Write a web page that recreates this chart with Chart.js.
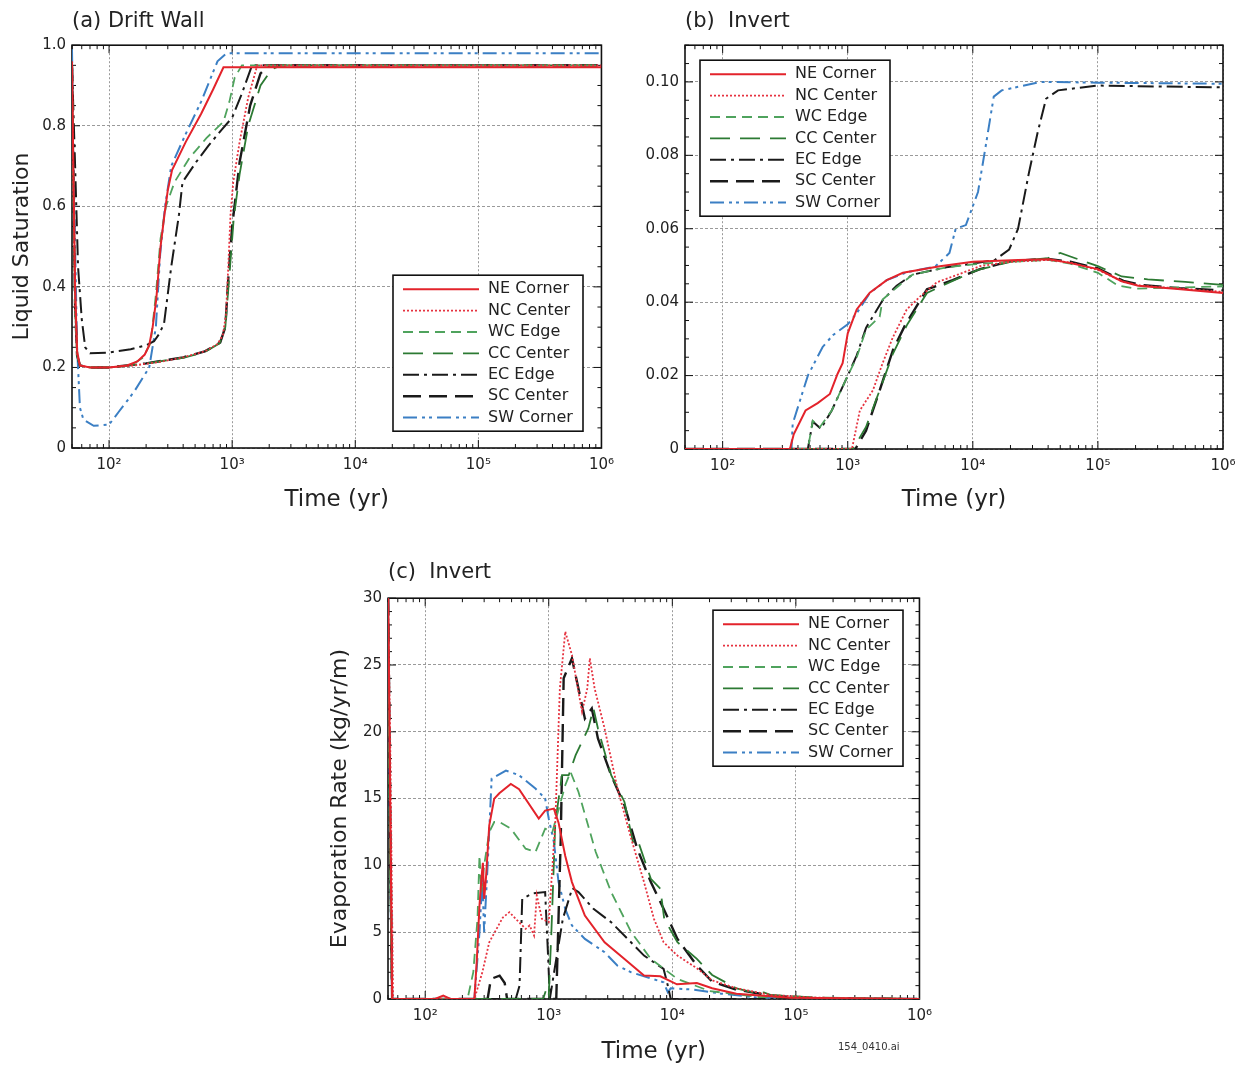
<!DOCTYPE html>
<html>
<head>
<meta charset="utf-8">
<script src="https://cdn.jsdelivr.net/npm/chart.js@4.4.0/dist/chart.umd.min.js"></script>
<style>
body{margin:0;background:#fff;width:1245px;height:1070px;position:relative;overflow:hidden;font-family:"DejaVu Sans",sans-serif}
canvas{position:absolute}
#note{position:absolute;left:838px;top:1041px;font-size:10px;color:#333}
</style>
</head>
<body>
<canvas id="wallChart" width="622" height="530" style="left:0;top:0"></canvas>
<canvas id="invertChart" width="623" height="530" style="left:622px;top:0"></canvas>
<canvas id="evapChart" width="640" height="515" style="left:300px;top:555px"></canvas>
<div id="note">154_0410.ai</div>
<script>
/* DATA */
const seriesNames = ['NE Corner','NC Center','WC Edge','CC Center','EC Edge','SC Center','SW Corner'];
const decades = [100, 1000, 10000, 100000, 1000000];
const decadeLabels = ['10\u00b2','10\u00b3','10\u2074','10\u2075','10\u2076'];

// (a) drift wall liquid saturation, [time yr, saturation]
const wallNE = [[50,0.96],[51,0.75],[53,0.4],[55,0.24],[58,0.205],[70,0.2],[100,0.2],[140,0.205],[170,0.215],[195,0.232],[212,0.255],[226,0.3],[242,0.37],[262,0.5],[282,0.58],[300,0.64],[325,0.69],[420,0.76],[560,0.83],[700,0.89],[850,0.945],[1000000,0.945]];
const wallNC = [[50,0.95],[51,0.7],[53,0.35],[55,0.23],[58,0.205],[70,0.2],[100,0.2],[160,0.205],[250,0.213],[400,0.225],[600,0.24],[760,0.258],[840,0.28],[890,0.33],[930,0.45],[970,0.58],[1020,0.66],[1150,0.76],[1350,0.87],[1600,0.95],[1000000,0.95]];
const wallWC = [[50,0.94],[51,0.7],[53,0.35],[55,0.23],[58,0.205],[70,0.2],[100,0.2],[150,0.205],[190,0.225],[218,0.262],[240,0.38],[262,0.52],[290,0.6],[340,0.66],[450,0.72],[620,0.77],[850,0.81],[950,0.86],[1050,0.92],[1200,0.95],[1000000,0.95]];
const wallCC = [[50,0.93],[51,0.7],[53,0.35],[55,0.23],[58,0.205],[70,0.2],[100,0.2],[200,0.21],[400,0.224],[600,0.238],[790,0.26],[880,0.3],[950,0.43],[1030,0.57],[1150,0.68],[1350,0.8],[1700,0.9],[2100,0.94],[2500,0.95],[1000000,0.95]];
const wallEC = [[50,0.95],[53,0.7],[56,0.45],[60,0.32],[64,0.25],[70,0.235],[100,0.237],[150,0.245],[200,0.255],[232,0.265],[258,0.285],[280,0.31],[320,0.45],[370,0.58],[395,0.66],[510,0.71],[640,0.75],[820,0.79],[1000,0.82],[1200,0.88],[1450,0.95],[1000000,0.95]];
const wallSC = [[50,0.95],[51,0.7],[53,0.35],[55,0.23],[58,0.205],[70,0.2],[100,0.2],[200,0.21],[400,0.225],[600,0.24],[800,0.262],[880,0.3],[930,0.42],[1000,0.55],[1150,0.71],[1400,0.85],[1700,0.93],[2000,0.95],[1000000,0.95]];
const wallSW = [[50,0.99],[51,0.8],[53,0.5],[55,0.25],[58,0.1],[62,0.07],[75,0.055],[100,0.058],[120,0.09],[160,0.14],[212,0.2],[240,0.3],[260,0.48],[285,0.6],[320,0.7],[420,0.78],[560,0.86],[760,0.96],[900,0.98],[1000000,0.98]];

// (b) invert liquid saturation
const invertNE = [[50,0],[345,0],[370,0.004],[460,0.0105],[575,0.0125],[720,0.015],[830,0.0205],[910,0.0234],[1000,0.0315],[1180,0.038],[1500,0.0426],[2050,0.046],[2760,0.048],[5450,0.0498],[10000,0.051],[23000,0.0515],[41000,0.0517],[59000,0.0507],[100000,0.049],[155000,0.0457],[210000,0.0445],[435000,0.0436],[1000000,0.0425]];
const invertNC = [[50,0],[1080,0],[1250,0.0105],[1590,0.016],[1900,0.0234],[2300,0.0305],[2960,0.038],[3780,0.0415],[5150,0.0454],[8300,0.048],[11400,0.0498],[20000,0.051],[40000,0.0515],[60000,0.0508],[100000,0.0488],[160000,0.0455],[220000,0.0445],[450000,0.0437],[1000000,0.0428]];
const invertWC = [[50,0],[480,0],[525,0.0077],[600,0.006],[745,0.0105],[985,0.0195],[1180,0.025],[1400,0.0325],[1800,0.036],[1900,0.0407],[2460,0.044],[3300,0.0475],[6150,0.0495],[10000,0.0503],[20000,0.051],[40000,0.0515],[60000,0.0505],[100000,0.048],[145000,0.0445],[200000,0.0437],[450000,0.044],[1000000,0.0443]];
const invertCC = [[50,0],[1100,0],[1400,0.006],[1800,0.016],[2300,0.026],[3000,0.034],[4300,0.0425],[6900,0.0458],[11000,0.0488],[20000,0.051],[40000,0.052],[50000,0.0534],[100000,0.0498],[155000,0.047],[250000,0.0462],[500000,0.0455],[1000000,0.0447]];
const invertEC = [[50,0],[480,0],[525,0.0075],[610,0.0055],[745,0.0105],[985,0.0195],[1180,0.0255],[1400,0.033],[1900,0.0405],[2460,0.0445],[3300,0.0475],[6150,0.0495],[10000,0.0505],[15000,0.0515],[19500,0.0543],[23000,0.06],[28000,0.075],[33000,0.0863],[38500,0.0954],[48000,0.0977],[100000,0.099],[1000000,0.0985]];
const invertSC = [[50,0],[1150,0],[1400,0.005],[1800,0.016],[2300,0.027],[2900,0.034],[4300,0.0435],[6900,0.046],[11400,0.049],[20000,0.0512],[40000,0.0518],[60000,0.051],[100000,0.0492],[160000,0.0458],[220000,0.0447],[450000,0.0438],[1000000,0.0432]];
const invertSW = [[50,0],[355,0],[363,0.0069],[480,0.02],[630,0.0278],[760,0.031],[1000,0.034],[1180,0.037],[1500,0.0425],[2050,0.046],[3000,0.0482],[5000,0.0497],[6500,0.0534],[7300,0.06],[8800,0.061],[11000,0.07],[12600,0.082],[14700,0.096],[17000,0.0977],[35000,0.1],[100000,0.0998],[1000000,0.0995]];

// (c) invert evaporation rate, kg/yr/m
const evapNE = [[50,32],[52,15],[54,0],[120,0],[140,0.25],[160,0],[250,0],[262,3],[275,7],[285,9],[293,10.2],[300,7.5],[310,9],[330,13],[362,15],[398,15.4],[493,16.1],[575,15.7],[830,13.5],[935,14.1],[1100,14.25],[1200,13.2],[1360,10.7],[1540,8.75],[1960,6.25],[2830,4.25],[4100,3],[5900,1.75],[8000,1.7],[10900,1.1],[15800,1.2],[21000,0.8],[33000,0.4],[90000,0.1],[1000000,0]];
const evapNC = [[50,30],[52,20],[55,0],[250,0],[290,2],[330,4.25],[425,6.1],[480,6.5],[540,6],[650,5.25],[700,5.5],[760,4.75],[800,7.75],[880,6],[1000,5.75],[1130,13.25],[1230,23.25],[1360,27.5],[1540,25.75],[1860,21.5],[2050,23.25],[2150,25.5],[2350,23.25],[2830,20.25],[3600,15.75],[4650,12],[5900,8.75],[7100,6],[8500,4.25],[11000,3.25],[15800,2.3],[21000,1.4],[33000,0.8],[63000,0.3],[150000,0.1],[1000000,0]];
const evapWC = [[50,30],[52,10],[54,0],[220,0],[245,2],[265,6],[275,10.75],[285,8],[300,10],[330,12.5],[362,13.25],[400,13.25],[493,12.75],[650,11.25],[780,11],[935,12.75],[1070,12.5],[1360,16],[1500,17],[1740,15.5],[2400,11],[3200,8],[4650,5],[6700,3],[11000,1.5],[20000,0.6],[50000,0.15],[1000000,0]];
const evapCC = [[50,30],[52,10],[54,0],[900,0],[960,0.8],[1000,0.3],[1050,5],[1130,13.25],[1280,16.75],[1450,16.75],[1650,18.25],[2090,20.25],[2300,21.75],[2500,20.25],[3200,16.75],[4100,14.75],[4800,11.75],[5200,12],[6700,9],[8000,8.25],[8600,6],[11000,4.25],[15800,3],[21000,1.8],[33000,0.8],[50000,0.4],[55000,0.5],[63000,0.3],[150000,0.1],[1000000,0]];
const evapEC = [[50,30],[52,10],[54,0],[540,0],[580,1],[610,7.5],[740,7.9],[935,8],[990,3],[1020,0],[1150,3],[1300,6],[1550,8.3],[1740,8],[2300,6.75],[3200,5.75],[4350,4.5],[5900,3.25],[8500,2.25],[9200,1],[9700,0],[1000000,0]];
const evapSC = [[50,32],[52,15],[54,0],[320,0],[340,1.5],[400,1.75],[440,1.2],[460,0],[1150,0],[1250,12],[1320,24],[1540,25.5],[1960,21],[2230,21.75],[2500,19.5],[3200,16.75],[4100,14.5],[5200,11.25],[6700,8.75],[8500,6.75],[11000,4.5],[15800,2.5],[21000,1.3],[33000,0.7],[63000,0.25],[150000,0.05],[1000000,0]];
const evapSW = [[50,30],[52,10],[54,0],[250,0],[275,5],[290,9],[300,5],[320,10],[345,16.5],[450,17.1],[575,16.75],[780,15.75],[935,15],[1000,13.5],[1100,11.75],[1200,8.75],[1360,6.75],[1540,5.5],[1960,4.5],[2830,3.5],[3600,2.5],[4650,2],[8500,1.25],[9200,0.5],[9700,0.8],[15000,0.7],[25000,0.4],[50000,0.1],[1000000,0]];

/* STYLES */
const seriesStyle = [
  {color:'#e3232b', dash:[], width:2},
  {color:'#e63340', dash:[2,2], width:1.8},
  {color:'#4fa35d', dash:[10,6], width:1.8},
  {color:'#2c7a33', dash:[20,10], width:1.8},
  {color:'#1a1a1a', dash:[16,5,3,5], width:2},
  {color:'#1a1a1a', dash:[18,8], width:2.4},
  {color:'#3b7fc4', dash:[14,5,3,4,3,5], width:2}
];

Chart.defaults.font.family = "'DejaVu Sans', sans-serif";
Chart.defaults.color = '#222';

function toPoints(p){ return p.map(q => ({x:q[0], y:q[1]})); }

/* FRAME + INNER TICKS (drawn under the curves) */
const frameTicks = {
  id:'frameTicks',
  beforeDatasetsDraw(chart, args, o){
    const {ctx, chartArea:a, scales:{x, y}} = chart;
    ctx.save();
    ctx.strokeStyle = '#111';
    ctx.lineWidth = 1;
    ctx.setLineDash([]);
    ctx.beginPath();
    for (let d = 10; d < x.max; d *= 10){
      for (let k = 1; k < 10; k++){
        const v = k*d;
        if (v < x.min || v > x.max) continue;
        const px = x.getPixelForValue(v);
        const len = k === 1 ? 8 : 4;
        ctx.moveTo(px, a.bottom); ctx.lineTo(px, a.bottom - len);
        ctx.moveTo(px, a.top); ctx.lineTo(px, a.top + len);
      }
    }
    const n = Math.round((y.max - y.min)/o.yMinor);
    for (let i = 0; i <= n; i++){
      const v = y.min + i*o.yMinor;
      const r = v/o.yMajor;
      const len = Math.abs(r - Math.round(r)) < 1e-6 ? 8 : 4;
      const py = y.getPixelForValue(v);
      ctx.moveTo(a.left, py); ctx.lineTo(a.left + len, py);
      ctx.moveTo(a.right, py); ctx.lineTo(a.right - len, py);
    }
    ctx.stroke();
    ctx.lineWidth = 1.6;
    ctx.strokeRect(a.left, a.top, a.right - a.left, a.bottom - a.top);
    ctx.restore();
  }
};

/* LEGEND BOX */
const boxLegend = {
  id:'boxLegend',
  afterDraw(chart, args, o){
    const {ctx, chartArea:a} = chart;
    const L = a.left + o.left, T = a.top + o.top;
    ctx.save();
    ctx.fillStyle = '#fff';
    ctx.fillRect(L, T, o.width, o.height);
    ctx.setLineDash([]);
    ctx.lineWidth = 1.6;
    ctx.strokeStyle = '#111';
    ctx.strokeRect(L, T, o.width, o.height);
    ctx.font = "16px 'DejaVu Sans', sans-serif";
    ctx.textBaseline = 'middle';
    chart.data.datasets.forEach((ds, i) => {
      const yy = T + 14 + i*21.4;
      ctx.strokeStyle = ds.borderColor;
      ctx.lineWidth = ds.borderWidth;
      ctx.setLineDash(ds.borderDash);
      ctx.beginPath(); ctx.moveTo(L + 10, yy); ctx.lineTo(L + 86, yy); ctx.stroke();
      ctx.setLineDash([]);
      ctx.fillStyle = '#222';
      ctx.fillText(ds.label, L + 95, yy);
    });
    ctx.restore();
  }
};

function build(id, o){
  return new Chart(document.getElementById(id), {
    type:'line',
    data:{
      datasets:o.series.map((s, i) => ({
        label:seriesNames[i],
        data:toPoints(s),
        borderColor:seriesStyle[i].color,
        borderDash:seriesStyle[i].dash,
        borderWidth:seriesStyle[i].width,
        pointRadius:0,
        tension:0,
        fill:false
      }))
    },
    plugins:[frameTicks, boxLegend],
    options:{
      responsive:false,
      animation:false,
      devicePixelRatio:1,
      layout:{padding:{left:0, right:o.padRight, top:0, bottom:0}},
      plugins:{
        legend:{display:false},
        tooltip:{enabled:false},
        title:{display:true, text:o.title, align:'start', fullSize:false, color:'#222',
          font:{size:21, weight:'normal'}, padding:{top:o.titleTop, bottom:o.titleBottom}},
        frameTicks:{yMajor:o.yStep, yMinor:o.yMinor},
        boxLegend:{left:o.legendLeft, top:o.legendTop, width:190, height:156}
      },
      scales:{
        x:{
          type:'logarithmic', min:50, max:1000000,
          afterBuildTicks:s => { s.ticks = decades.map(v => ({value:v, major:true})); },
          afterFit:s => { s.height = o.xHeight; },
          ticks:{autoSkip:false, maxRotation:0, padding:8, font:{size:15}, callback:(v, i) => decadeLabels[i]},
          grid:{color:'#9a9a9a', lineWidth:1, drawTicks:false},
          border:{display:false, dash:[2,2]},
          title:{display:true, text:'Time (yr)', font:{size:23}, padding:{top:0, bottom:o.xTitlePad}}
        },
        y:{
          type:'linear', min:0, max:o.yMax,
          afterFit:s => { s.width = o.yWidth; },
          ticks:{stepSize:o.yStep, includeBounds:false, padding:6, font:{size:15}, callback:o.yFmt},
          grid:{color:'#9a9a9a', lineWidth:1, drawTicks:false},
          border:{display:false, dash:[3,2]},
          title:{display:!!o.yTitle, text:o.yTitle || '', font:{size:22}, padding:{top:o.yTitlePad || 0, bottom:0}}
        }
      }
    }
  });
}

/* (a) DRIFT WALL */
build('wallChart', {
  series:[wallNE, wallNC, wallWC, wallCC, wallEC, wallSC, wallSW],
  title:'(a) Drift Wall', titleTop:9, titleBottom:11,
  padRight:14, xHeight:82, xTitlePad:16,
  yWidth:72, yTitle:'Liquid Saturation', yTitlePad:9,
  yMax:1, yStep:0.2, yMinor:0.05, yFmt:v => v === 0 ? '0' : v.toFixed(1),
  legendLeft:321, legendTop:230
});

/* (b) INVERT */
build('invertChart', {
  series:[invertNE, invertNC, invertWC, invertCC, invertEC, invertSC, invertSW],
  title:'(b)  Invert', titleTop:9, titleBottom:11,
  padRight:22, xHeight:81, xTitlePad:16,
  yWidth:63, yTitle:'',
  yMax:0.11, yStep:0.02, yMinor:0.005, yFmt:v => v === 0 ? '0' : v.toFixed(2),
  legendLeft:15, legendTop:15
});

/* (c) INVERT EVAPORATION */
build('evapChart', {
  series:[evapNE, evapNC, evapWC, evapCC, evapEC, evapSC, evapSW],
  title:'(c)  Invert', titleTop:5, titleBottom:13,
  padRight:20, xHeight:71, xTitlePad:4,
  yWidth:88, yTitle:'Evaporation Rate (kg/yr/m)', yTitlePad:27,
  yMax:30, yStep:5, yMinor:1, yFmt:v => String(v),
  legendLeft:325, legendTop:12
});
</script>
</body>
</html>
